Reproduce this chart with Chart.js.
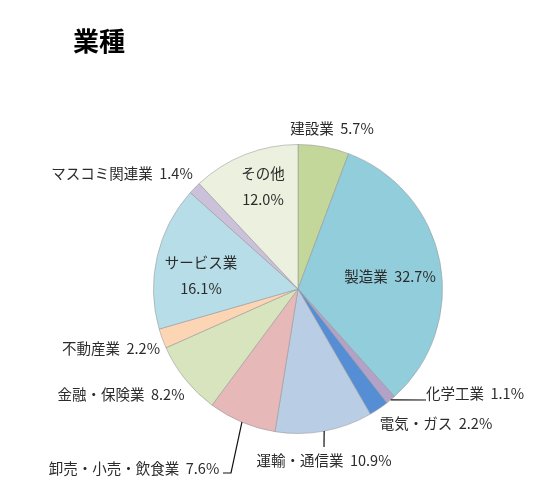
<!DOCTYPE html>
<html>
<head>
<meta charset="utf-8">
<script src="https://cdn.jsdelivr.net/npm/chart.js@4.4.0/dist/chart.umd.min.js"></script>
<style>
  html, body { margin: 0; padding: 0; background: #fff; }
  #wrap { position: relative; width: 559px; height: 495px; }
</style>
</head>
<body>
<div id="wrap"><canvas id="industryChart"></canvas></div>
<script>
"use strict";
// data
const categories = ['建設業', '製造業', '化学工業', '電気・ガス', '運輸・通信業',
    '卸売・小売・飲食業', '金融・保険業', '不動産業', 'サービス業', 'マスコミ関連業', 'その他'];
const shares = [5.7, 32.7, 1.1, 2.2, 10.9, 7.6, 8.2, 2.2, 16.1, 1.4, 12.0];
const chartTitle = '業種';

const sliceColors = ['#c4d79b', '#92cddc', '#b3a2c7', '#558ed5', '#b9cde5',
    '#e6b9b8', '#d7e4bd', '#fcd5b5', '#b7dee8', '#ccc1da', '#ebf1de'];

// label placement relative to pie centre (px); twoLine = value on its own line
const labelLayout = [
    { dx: 34, dy: -161 },
    { dx: 92, dy: -13 },
    { dx: 177, dy: 104, leader: [[128, 111]] },
    { dx: 138, dy: 134 },
    { dx: 26, dy: 171, leader: [[26, 158]] },
    { dx: -164, dy: 179, leader: [[-67, 184], [-75, 184]] },
    { dx: -177, dy: 105 },
    { dx: -187, dy: 59 },
    { dx: -97, dy: -14, twoLine: true },
    { dx: -176, dy: -116 },
    { dx: -35, dy: -103, twoLine: true }
];

const labelPlugin = {
    id: 'sliceLabels',
    afterDraw(chart) {
        const ctx = chart.ctx;
        const meta = chart.getDatasetMeta(0);
        ctx.save();
        // title
        ctx.fillStyle = '#000';
        ctx.font = 'bold 26px "Noto Sans CJK JP", sans-serif';
        ctx.textAlign = 'left';
        ctx.textBaseline = 'middle';
        ctx.fillText(chartTitle, 73, 41);

        ctx.font = '14.5px "Noto Sans CJK JP", sans-serif';
        ctx.textAlign = 'center';
        meta.data.forEach((arc, i) => {
            const p = arc.getProps(['x', 'y', 'startAngle', 'endAngle', 'outerRadius'], true);
            const lay = labelLayout[i];
            const lx = p.x + lay.dx, ly = p.y + lay.dy;
            const pct = shares[i].toFixed(1) + '%';
            if (lay.leader) {
                const mid = (p.startAngle + p.endAngle) / 2;
                ctx.strokeStyle = '#111';
                ctx.lineWidth = 1.2;
                ctx.beginPath();
                ctx.moveTo(p.x + Math.cos(mid) * p.outerRadius, p.y + Math.sin(mid) * p.outerRadius);
                lay.leader.forEach(pt => ctx.lineTo(p.x + pt[0], p.y + pt[1]));
                ctx.stroke();
            }
            ctx.fillStyle = '#2b2b2b';
            if (lay.twoLine) {
                ctx.fillText(categories[i], lx, ly - 13);
                ctx.fillText(pct, lx, ly + 13);
            } else {
                ctx.fillText(categories[i] + '  ' + pct, lx, ly);
            }
        });
        ctx.restore();
    }
};

const ctx = document.getElementById('industryChart').getContext('2d');
new Chart(ctx, {
    type: 'pie',
    data: {
        labels: categories,
        datasets: [{
            data: shares,
            backgroundColor: sliceColors,
            borderColor: 'rgba(150,150,150,0.55)',
            borderWidth: 1
        }]
    },
    options: {
        responsive: true,
        maintainAspectRatio: false,
        animation: false,
        layout: { padding: { left: 153, right: 116, top: 144, bottom: 61 } },
        plugins: {
            legend: { display: false },
            tooltip: { enabled: false },
            title: { display: false }
        }
    },
    plugins: [labelPlugin]
});
</script>
</body>
</html>
